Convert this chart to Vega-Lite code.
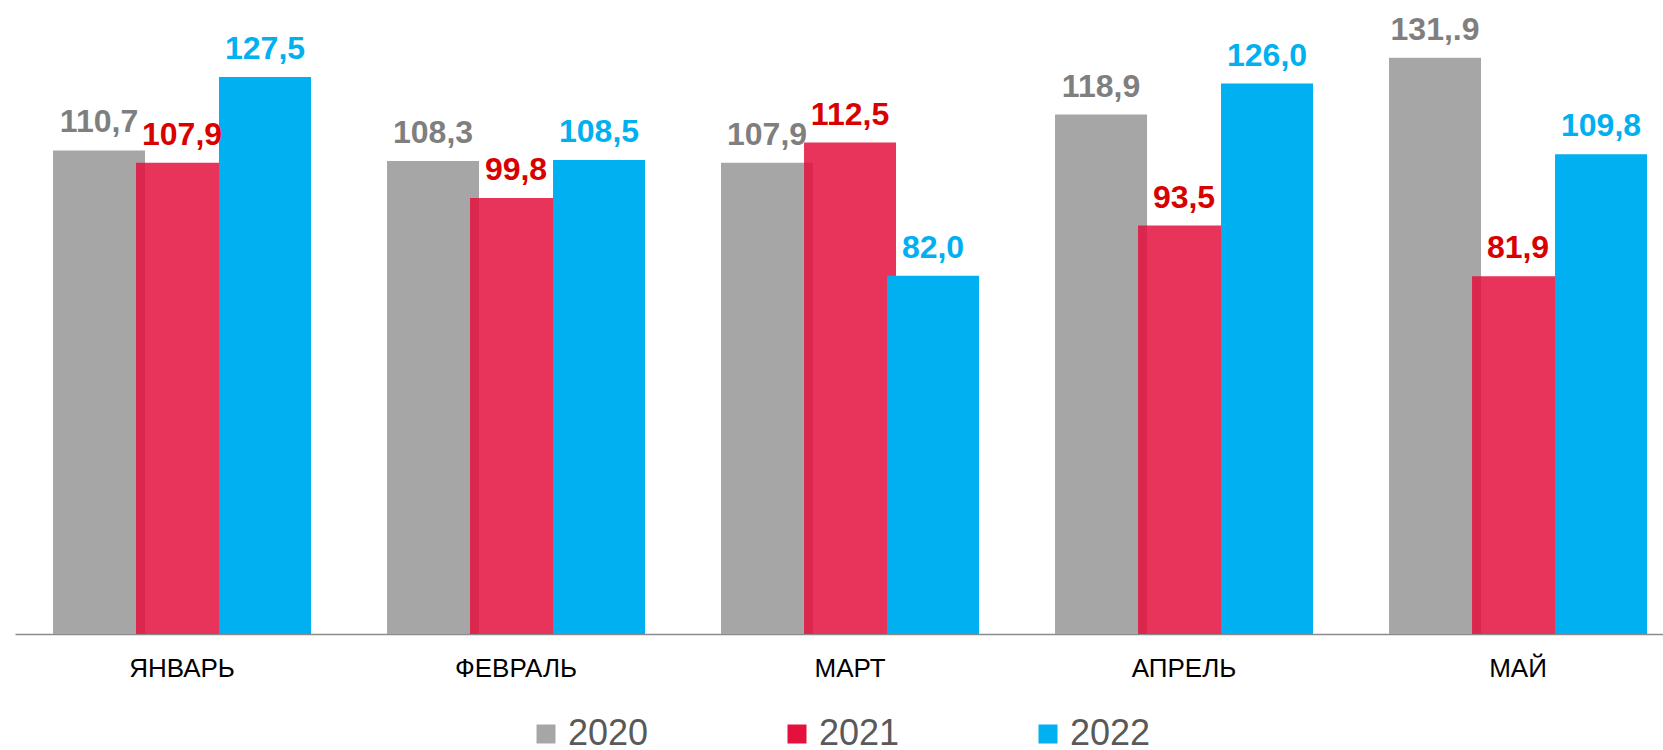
{
  "$schema": "https://vega.github.io/schema/vega-lite/v6.json",
  "width": 1648,
  "height": 633,
  "autosize": {"type": "none"},
  "padding": {"left": 15, "top": 1, "right": 0, "bottom": 116},
  "background": "white",
  "config": {"view": {"stroke": null}, "font": "Liberation Sans"},
  "data": {
    "values": [
      {"month": "ЯНВАРЬ", "year": "2020", "value": 110.7, "label": "110,7"},
      {"month": "ЯНВАРЬ", "year": "2021", "value": 107.9, "label": "107,9"},
      {"month": "ЯНВАРЬ", "year": "2022", "value": 127.5, "label": "127,5"},
      {"month": "ФЕВРАЛЬ", "year": "2020", "value": 108.3, "label": "108,3"},
      {"month": "ФЕВРАЛЬ", "year": "2021", "value": 99.8, "label": "99,8"},
      {"month": "ФЕВРАЛЬ", "year": "2022", "value": 108.5, "label": "108,5"},
      {"month": "МАРТ", "year": "2020", "value": 107.9, "label": "107,9"},
      {"month": "МАРТ", "year": "2021", "value": 112.5, "label": "112,5"},
      {"month": "МАРТ", "year": "2022", "value": 82.0, "label": "82,0"},
      {"month": "АПРЕЛЬ", "year": "2020", "value": 118.9, "label": "118,9"},
      {"month": "АПРЕЛЬ", "year": "2021", "value": 93.5, "label": "93,5"},
      {"month": "АПРЕЛЬ", "year": "2022", "value": 126.0, "label": "126,0"},
      {"month": "МАЙ", "year": "2020", "value": 131.9, "label": "131,.9"},
      {"month": "МАЙ", "year": "2021", "value": 81.9, "label": "81,9"},
      {"month": "МАЙ", "year": "2022", "value": 109.8, "label": "109,8"}
    ]
  },
  "encoding": {
    "x": {
      "field": "month",
      "type": "nominal",
      "sort": ["ЯНВАРЬ", "ФЕВРАЛЬ", "МАРТ", "АПРЕЛЬ", "МАЙ"],
      "scale": {"paddingInner": 0.2545, "paddingOuter": 0.0943, "align": 0.675, "round": false},
      "axis": {
        "title": null,
        "labelAngle": 0,
        "labelFontSize": 26,
        "labelColor": "#000000",
        "labelFont": "Liberation Sans",
        "ticks": false,
        "tickSize": 0,
        "labelPadding": 21,
        "domainColor": "#8C8C8C",
        "domainWidth": 1.5,
        "grid": false
      }
    },
    "xOffset": {
      "field": "year",
      "type": "nominal",
      "sort": ["2020", "2021", "2022"],
      "scale": {"paddingInner": 0, "paddingOuter": 0, "round": false}
    },
    "y": {
      "field": "value",
      "type": "quantitative",
      "scale": {"domain": [0, 144.9], "nice": false, "zero": true},
      "axis": null
    }
  },
  "layer": [
    {
      "mark": {"type": "bar", "width": 92, "strokeWidth": 0},
      "encoding": {
        "color": {
          "field": "year",
          "type": "nominal",
          "scale": {"domain": ["2020", "2021", "2022"], "range": ["#A6A6A6", "#E4103D", "#00B0F0"]},
          "legend": {
            "orient": "none",
            "legendX": 513,
            "legendY": 715,
            "direction": "horizontal",
            "title": null,
            "symbolType": "square",
            "symbolSize": 361,
            "symbolStrokeWidth": 0,
            "symbolOpacity": 1,
            "labelFontSize": 36,
            "labelColor": "#595959",
            "labelFont": "Liberation Sans",
            "labelOffset": 4,
            "columnPadding": 130,
            "padding": 0
          }
        },
        "fillOpacity": {
          "field": "year",
          "type": "nominal",
          "scale": {"type": "ordinal", "domain": ["2020", "2021", "2022"], "range": [1, 0.85, 1]},
          "legend": null
        }
      }
    },
    {
      "mark": {"type": "text", "dy": -18, "baseline": "alphabetic", "align": "center", "fontSize": 32, "fontWeight": "bold", "font": "Liberation Sans"},
      "encoding": {
        "text": {"field": "label", "type": "nominal"},
        "color": {
          "field": "year",
          "type": "nominal",
          "scale": {"domain": ["2020", "2021", "2022"], "range": ["#7F7F7F", "#D90000", "#00B0F0"]},
          "legend": null
        }
      }
    }
  ],
  "resolve": {"scale": {"color": "independent"}}
}
